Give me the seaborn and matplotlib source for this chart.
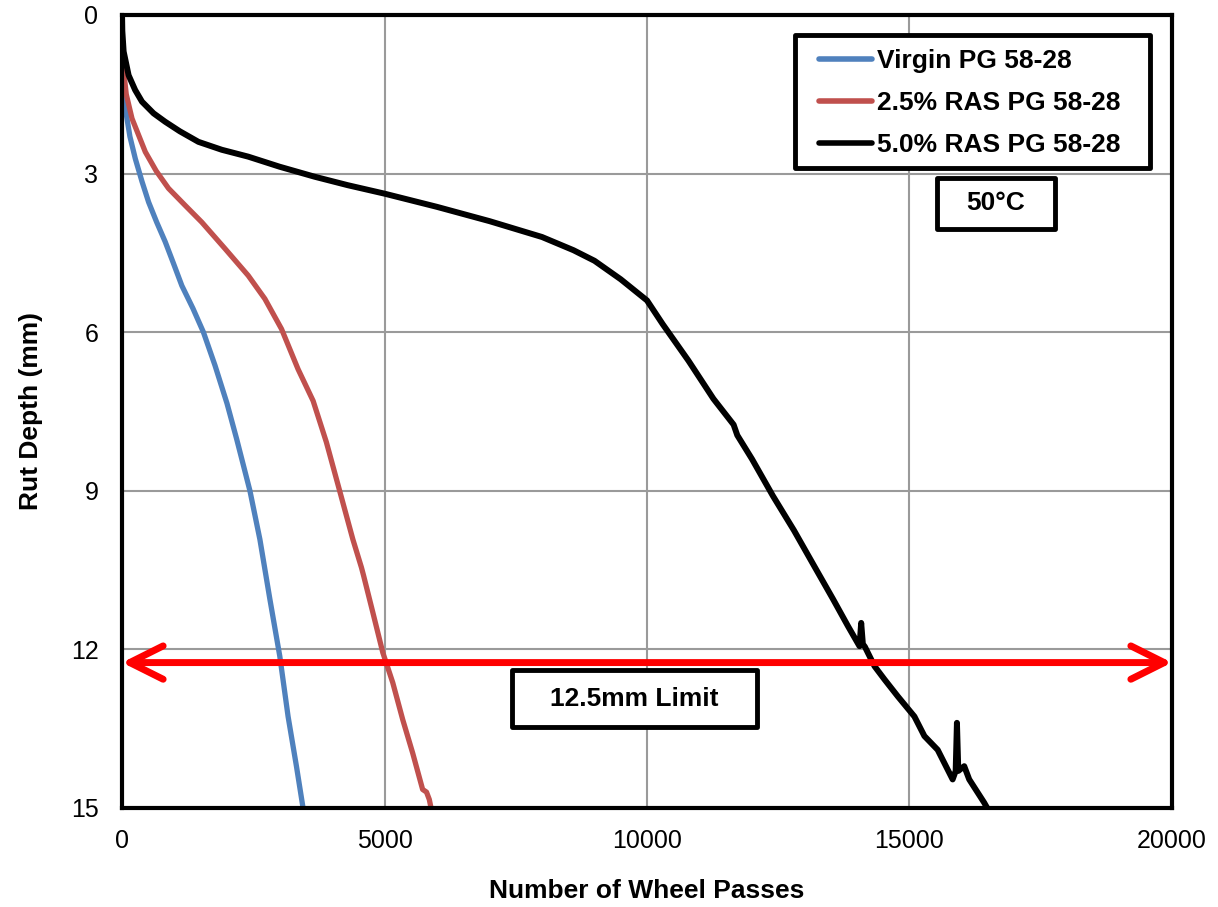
import matplotlib
matplotlib.use('Agg')
import matplotlib.pyplot as plt
import matplotlib.patches as mpatches
import numpy as np
import pandas as pd
import seaborn as sns

sns.set_theme(style='white')
plt.rcParams['font.family'] = ['Liberation Sans', 'DejaVu Sans']
plt.rcParams['text.color'] = 'black'
plt.rcParams['axes.labelcolor'] = 'black'

# (passes vs. rut depth in mm)
virgin_passes = [0, 5, 20, 63, 150, 253, 380, 506, 660, 822, 980, 1139, 1350, 1550,
                 1771, 2000, 2183, 2436, 2626, 2816, 3005, 3163, 3322, 3448]
virgin_depth = [0, 0.5, 1.14, 1.77, 2.3, 2.72, 3.15, 3.54, 3.92, 4.29, 4.7, 5.12,
                5.55, 6.0, 6.63, 7.35, 8.02, 9.0, 9.92, 11.05, 12.13, 13.27, 14.21, 15.0]

ras25_passes = [0, 5, 20, 80, 190, 443, 650, 885, 1200, 1519, 1961, 2404, 2721,
                3038, 3353, 3640, 3892, 4145, 4397, 4560, 4600, 4777, 4967, 5157,
                5347, 5536, 5726, 5800, 5853, 5886]
ras25_depth = [0, 0.5, 0.95, 1.5, 1.96, 2.59, 2.95, 3.28, 3.6, 3.92, 4.42, 4.93,
               5.37, 5.94, 6.70, 7.3, 8.08, 9.0, 9.92, 10.45, 10.6, 11.3, 12.06,
               12.63, 13.33, 13.96, 14.65, 14.7, 14.84, 15.0]

ras50_passes = [0, 5, 30, 125, 250, 380, 600, 822, 1100, 1455, 1900, 2404, 3000,
                3670, 4300, 5000, 6000, 7000, 8000, 8600, 9000, 9500, 10000, 10300,
                10790, 11265, 11650, 11720, 12000, 12400, 12800, 13200, 13544, 13828,
                14048, 14080, 14112, 14150, 14335, 14525, 14778, 15094, 15284, 15537,
                15822, 15880, 15904, 15930, 16043, 16138, 16423, 16480]
ras50_depth = [0, 0.3, 0.69, 1.14, 1.42, 1.64, 1.86, 2.02, 2.2, 2.40, 2.55, 2.68,
               2.87, 3.06, 3.22, 3.38, 3.63, 3.9, 4.2, 4.45, 4.65, 5.0, 5.4, 5.85,
               6.54, 7.26, 7.75, 7.95, 8.4, 9.1, 9.75, 10.45, 11.05, 11.56,
               11.94, 11.5, 11.9, 11.95, 12.32, 12.57, 12.89, 13.27, 13.64, 13.90,
               14.46, 14.3, 13.39, 14.3, 14.21, 14.46, 14.90, 15.0]

series_labels = ['Virgin PG 58-28', '2.5% RAS PG 58-28', '5.0% RAS PG 58-28']
series_colors = ['#4F81BD', '#C0504D', '#000000']
series_widths = [3.8, 3.8, 4.3]
limit_depth = 12.25
x_ticks = [0, 5000, 10000, 15000, 20000]
y_ticks = [0, 3, 6, 9, 12, 15]

fig = plt.figure(figsize=(12.18, 9.07), dpi=100)
ax = fig.add_axes([0.1002, 0.1092, 0.862, 0.8743])

all_series = [(virgin_passes, virgin_depth), (ras25_passes, ras25_depth),
              (ras50_passes, ras50_depth)]
for (xs, ys), label, color, lw in zip(all_series, series_labels, series_colors, series_widths):
    sns.lineplot(x=xs, y=ys, ax=ax, sort=False, estimator=None, color=color,
                 lw=lw, label=label, solid_joinstyle='round', solid_capstyle='round')

ax.set_xlim(0, 20000)
ax.set_ylim(15, 0)
ax.set_xticks(x_ticks)
ax.set_yticks(y_ticks)
ax.grid(True, color='#9a9a9a', lw=1.5)
ax.tick_params(axis='both', length=0, labelsize=18, colors='black')
ax.tick_params(axis='x', pad=15)
ax.tick_params(axis='y', pad=17)
for sp in ax.spines.values():
    sp.set_color('black')
    sp.set_linewidth(3)
    sp.set_visible(True)

ax.set_xlabel('Number of Wheel Passes', fontsize=19, fontweight='bold', labelpad=19)
ax.set_ylabel('Rut Depth (mm)', fontsize=19, fontweight='bold', labelpad=20)

# legend without its own frame; the frame is drawn as a box below
leg = ax.legend(loc='upper left', bbox_to_anchor=(0.6638, 0.957), borderaxespad=0,
                frameon=False, prop={'size': 19, 'weight': 'bold'}, handlelength=2.0,
                handletextpad=0.2, labelspacing=0.68, borderpad=0)
for h in leg.get_lines():
    h.set_linewidth(4)
ax.add_patch(mpatches.Rectangle((0.641, 0.807), 0.338, 0.168, transform=ax.transAxes,
                                fc='white', ec='black', lw=3.5, zorder=4,
                                joinstyle='round'))
leg.set_zorder(6)

# 12.5 mm limit arrow
ax.annotate('', xy=(20000, limit_depth), xytext=(0, limit_depth),
            arrowprops=dict(arrowstyle='<->,head_length=1.2,head_width=0.6',
                            color='#FF0000', lw=5, mutation_scale=20,
                            shrinkA=0, shrinkB=0, capstyle='round'))

# text boxes
for (x0, y0, w, h), txt in [((0.776, 0.730, 0.1126, 0.0645), '50°C'),
                            ((0.3714, 0.102, 0.2334, 0.072), '12.5mm Limit')]:
    ax.add_patch(mpatches.Rectangle((x0, y0), w, h, transform=ax.transAxes,
                                    fc='white', ec='black', lw=3.5, zorder=5,
                                    joinstyle='round'))
    ax.text(x0 + w / 2, y0 + h / 2, txt, transform=ax.transAxes, ha='center',
            va='center', fontsize=19, fontweight='bold', zorder=6)

fig.savefig('out.png', dpi=100)
